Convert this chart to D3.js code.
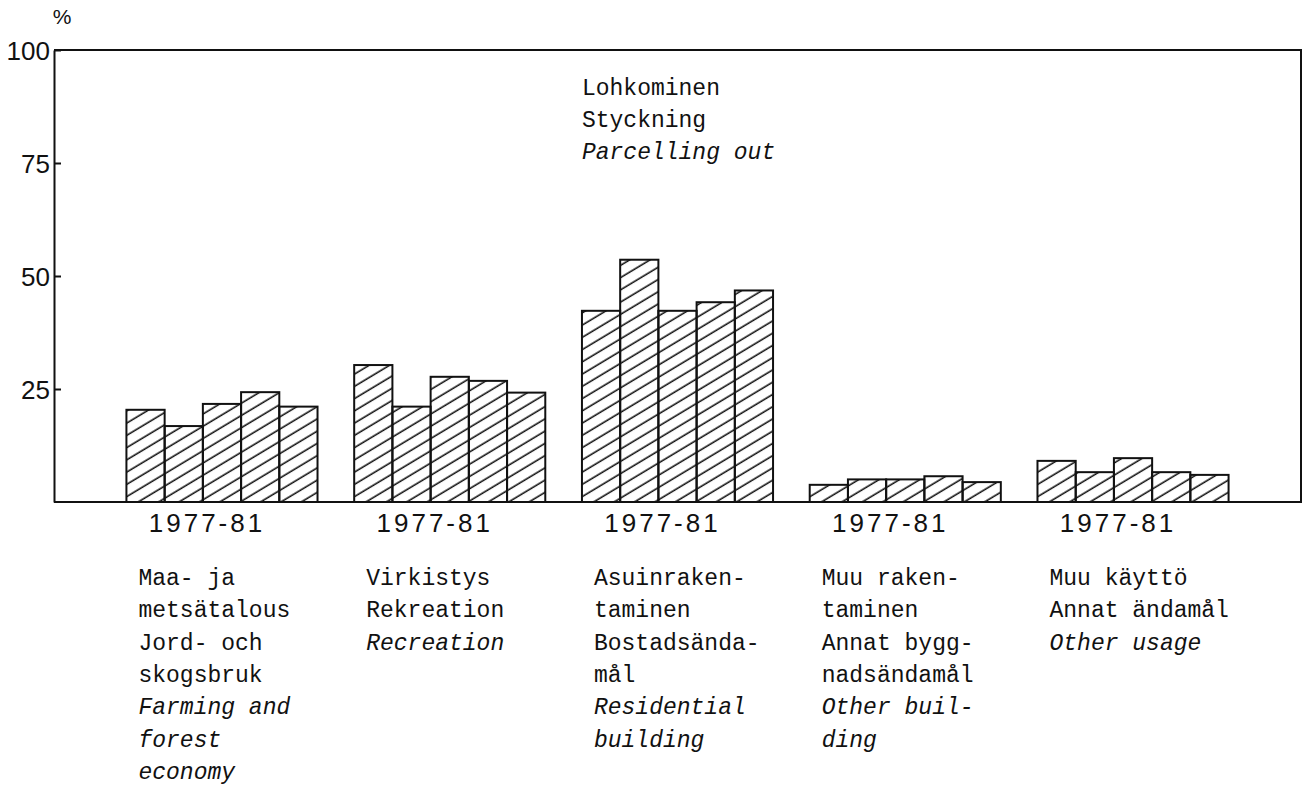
<!DOCTYPE html>
<meta charset="utf-8">
<head>
<style>
  body { margin: 0; background: #fff; }
  text { fill: #111; }
  .mono { font-family: "Liberation Mono", "Courier New", monospace; font-size: 23px; }
  .en { font-style: italic; }
  .sans { font-family: "Liberation Sans", Arial, sans-serif; font-size: 26px; }
  .axis .domain, .axis line { stroke: #111; stroke-width: 2px; }
</style>
</head>
<body>
<div id="my_dataviz"></div>

<script src="https://d3js.org/d3.v7.min.js"></script>
<script>
// one bar per year inside every group
var years = ["1977", "1978", "1979", "1980", "1981"];
var periodLabel = "1977-81";

var groupKeys = ["farming", "recreation", "residential", "otherBuilding", "otherUsage"];

// share of all parcellings, %
var farming       = [20.4, 16.8, 21.7, 24.3, 21.1];
var recreation    = [30.3, 21.1, 27.7, 26.8, 24.2];
var residential   = [42.3, 53.6, 42.3, 44.2, 46.8];
var otherBuilding = [3.8, 5.0, 5.0, 5.7, 4.4];
var otherUsage    = [9.1, 6.6, 9.7, 6.6, 6.0];

// labels under the groups: finnish, swedish, english (italic)
var labelsFi = [["Maa- ja", "metsätalous"], ["Virkistys"], ["Asuinraken-", "taminen"], ["Muu raken-", "taminen"], ["Muu käyttö"]];
var labelsSv = [["Jord- och", "skogsbruk"], ["Rekreation"], ["Bostadsända-", "mål"], ["Annat bygg-", "nadsändamål"], ["Annat ändamål"]];
var labelsEn = [["Farming and", "forest", "economy"], ["Recreation"], ["Residential", "building"], ["Other buil-", "ding"], ["Other usage"]];

var titleLines = ["Lohkominen", "Styckning"];
var titleEn = "Parcelling out";
var yTicks = [25, 50, 75, 100];

var groupValues = [farming, recreation, residential, otherBuilding, otherUsage];
var dataReady = groupKeys.map(function(k, i) {
  return {
    key: k,
    values: years.map(function(yr, j) { return {year: yr, value: groupValues[i][j]}; }),
    lines: labelsFi[i].map(function(t) { return {text: t, en: false}; })
      .concat(labelsSv[i].map(function(t) { return {text: t, en: false}; }))
      .concat(labelsEn[i].map(function(t) { return {text: t, en: true}; }))
  };
});

// set the dimensions and margins of the graph
var margin = {top: 50, right: 6, bottom: 286, left: 54},
    width = 1307 - margin.left - margin.right,
    height = 788 - margin.top - margin.bottom;

var root = d3.select("#my_dataviz")
  .append("svg")
    .attr("width", width + margin.left + margin.right)
    .attr("height", height + margin.top + margin.bottom);

// diagonal hatching used for every bar
root.append("defs")
  .append("pattern")
    .attr("id", "hatch")
    .attr("patternUnits", "userSpaceOnUse")
    .attr("width", 10)
    .attr("height", 10.5)
    .attr("patternTransform", "rotate(-31)")
  .append("line")
    .attr("x1", -1).attr("x2", 11)
    .attr("y1", 5).attr("y2", 5)
    .attr("stroke", "#111")
    .attr("stroke-width", 1.6);

var svg = root.append("g")
    .attr("transform", "translate(" + margin.left + "," + margin.top + ")");

var x = d3.scaleBand()
  .domain(groupKeys)
  .range([0, width])
  .paddingInner(0.161)
  .paddingOuter(0.318);

var xYear = d3.scaleBand()
  .domain(years)
  .range([0, x.bandwidth()]);

var y = d3.scaleLinear()
  .domain([0, 100])
  .range([height, 0]);

// Y axis with ticks pointing into the plot
svg.append("g")
  .attr("class", "axis")
  .call(d3.axisLeft(y).tickValues(yTicks).tickSizeInner(-7).tickSizeOuter(0).tickPadding(4))
  .call(function(g) {
    g.selectAll("text")
      .attr("class", "sans")
      .attr("dy", "0.36em");
  });
svg.select(".axis").attr("font-size", null).attr("font-family", null);

svg.append("text")
  .attr("class", "sans")
  .attr("x", 8)
  .attr("y", -26)
  .style("font-size", "21px")
  .style("text-anchor", "middle")
  .text("%");

// frame: top, right and bottom
svg.append("path")
  .attr("d", "M0," + y(100) + "H" + width + "V" + y(0) + "H0")
  .attr("fill", "none")
  .attr("stroke", "#111")
  .attr("stroke-width", 2);

// the bars
var groups = svg.selectAll("myGroups")
  .data(dataReady)
  .enter()
  .append("g")
    .attr("transform", function(d) { return "translate(" + x(d.key) + ",0)"; });

groups.selectAll("rect")
  .data(function(d) { return d.values; })
  .enter()
  .append("rect")
    .attr("x", function(d) { return xYear(d.year); })
    .attr("y", function(d) { return y(d.value); })
    .attr("width", xYear.bandwidth())
    .attr("height", function(d) { return y(0) - y(d.value); })
    .attr("fill", "url(#hatch)")
    .attr("stroke", "#111")
    .attr("stroke-width", 2);

// period under each group
groups.append("text")
  .attr("class", "sans")
  .attr("x", x.bandwidth() / 2 - 15)
  .attr("y", height + 30)
  .style("text-anchor", "middle")
  .style("letter-spacing", "3px")
  .text(periodLabel);

// category names
groups.append("text")
  .attr("class", "mono")
  .attr("y", height + 83)
  .selectAll("tspan")
  .data(function(d) { return d.lines; })
  .enter()
  .append("tspan")
    .attr("class", function(d) { return d.en ? "en" : null; })
    .attr("x", 12)
    .attr("dy", function(d, i) { return i === 0 ? 0 : 32.3; })
    .text(function(d) { return d.text; });

// title inside the plot
var title = svg.append("text")
  .attr("class", "mono")
  .attr("y", 45);
titleLines.concat([titleEn]).forEach(function(t, i) {
  title.append("tspan")
    .attr("class", i === titleLines.length ? "en" : null)
    .attr("x", x(groupKeys[2]))
    .attr("dy", i === 0 ? 0 : 32)
    .text(t);
});
</script>
</body>
